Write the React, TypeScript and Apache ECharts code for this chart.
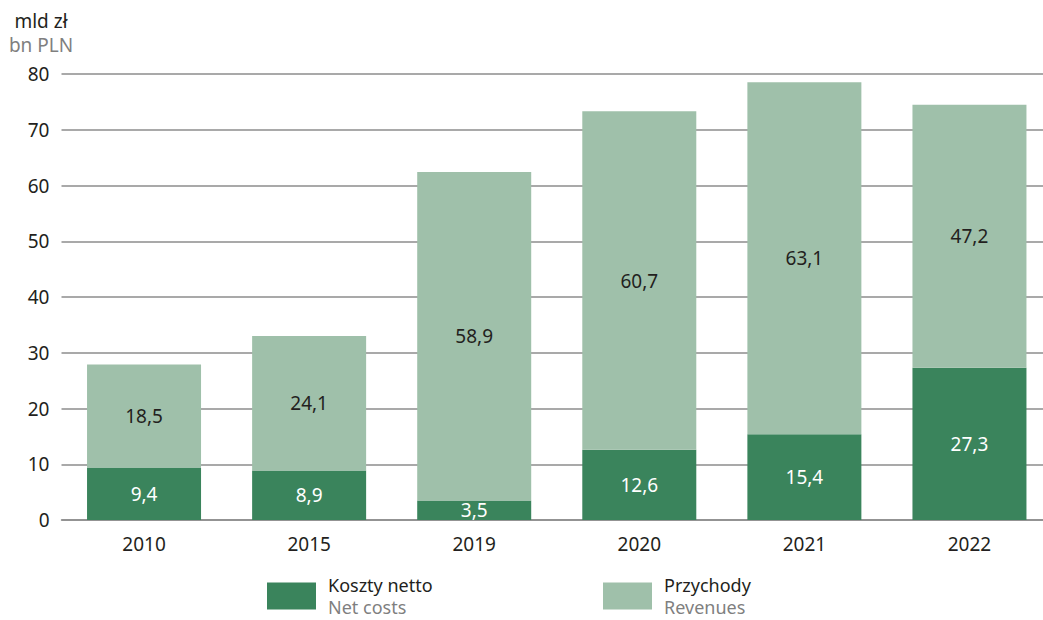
import React, { useEffect, useRef } from "react";
import * as echarts from "echarts";

const categories = ["2010", "2015", "2019", "2020", "2021", "2022"];
const netCosts = [9.4, 8.9, 3.5, 12.6, 15.4, 27.3];
const revenues = [18.5, 24.1, 58.9, 60.7, 63.1, 47.2];
const yTicks = { min: 0, max: 80, interval: 10 };

const FONT = "'Noto Sans', 'Open Sans', sans-serif";
const DARK = "#3a845c";
const LIGHT = "#9fc0aa";
const TEXT = "#231f20";
const GRAY = "#7f7f7f";
const FS = 19;
const LFS = 18;

const fmt = (v: number) => v.toFixed(1).replace(".", ",");

const legendStyle = {
  top: 576,
  padding: 0,
  itemWidth: 49,
  itemHeight: 27,
  itemGap: 0,
  icon: "rect",
  selectedMode: false,
};
const legendRich = {
  a: { color: TEXT, fontSize: LFS, fontFamily: FONT, lineHeight: 22 },
  b: { color: GRAY, fontSize: LFS, fontFamily: FONT, lineHeight: 22 },
};

export default function App() {
  const ref = useRef<HTMLDivElement>(null);
  useEffect(() => {
    document.body.style.margin = "0";
    const chart = echarts.init(ref.current!, null, { renderer: "svg" });
    chart.setOption({
      animation: false,
      textStyle: { fontFamily: FONT },
      grid: { left: 61.5, right: 0, top: 74, bottom: 100, containLabel: false },
      xAxis: {
        type: "category",
        data: categories,
        axisTick: { show: false },
        axisLine: { show: true, lineStyle: { color: "#8c8c8c", width: 1.5 } },
        axisLabel: { color: TEXT, fontSize: FS, fontFamily: FONT, margin: 14 },
      },
      yAxis: {
        type: "value",
        min: yTicks.min,
        max: yTicks.max,
        interval: yTicks.interval,
        axisLine: { show: false },
        axisTick: { show: false },
        axisLabel: { color: TEXT, fontSize: FS, fontFamily: FONT, margin: 12 },
        splitLine: { lineStyle: { color: "#8c8c8c", width: 1.5 } },
      },
      legend: [
        {
          ...legendStyle,
          data: ["Koszty netto"],
          left: 267,
          formatter: () => "{a|Koszty netto}\n{b|Net costs}",
          textStyle: { padding: [0, 0, 0, 7], rich: legendRich },
        },
        {
          ...legendStyle,
          data: ["Przychody"],
          left: 603,
          formatter: () => "{a|Przychody}\n{b|Revenues}",
          textStyle: { padding: [0, 0, 0, 7], rich: legendRich },
        },
      ],
      graphic: [
        {
          type: "text",
          x: 41,
          y: 21,
          style: { text: "mld zł", fill: TEXT, font: `${FS}px ${FONT}`, lineHeight: 22, textAlign: "center", textVerticalAlign: "middle" },
        },
        {
          type: "text",
          x: 41,
          y: 45,
          style: { text: "bn PLN", fill: GRAY, font: `${FS}px ${FONT}`, lineHeight: 22, textAlign: "center", textVerticalAlign: "middle" },
        },
      ],
      series: [
        {
          name: "Koszty netto",
          type: "bar",
          stack: "total",
          data: netCosts,
          barWidth: 114,
          itemStyle: { color: DARK },
          label: {
            show: true,
            position: "inside",
            color: "#ffffff",
            fontSize: FS,
            fontFamily: FONT,
            formatter: (p: any) => fmt(p.value),
          },
        },
        {
          name: "Przychody",
          type: "bar",
          stack: "total",
          data: revenues,
          barWidth: 114,
          itemStyle: { color: LIGHT },
          label: {
            show: true,
            position: "inside",
            color: TEXT,
            fontSize: FS,
            fontFamily: FONT,
            formatter: (p: any) => fmt(p.value),
          },
        },
      ],
    });
    return () => chart.dispose();
  }, []);
  return (
    <div style={{ width: 1043, height: 620, overflow: "hidden", position: "relative" }}>
      <div ref={ref} style={{ width: 1052, height: 620 }} />
    </div>
  );
}
